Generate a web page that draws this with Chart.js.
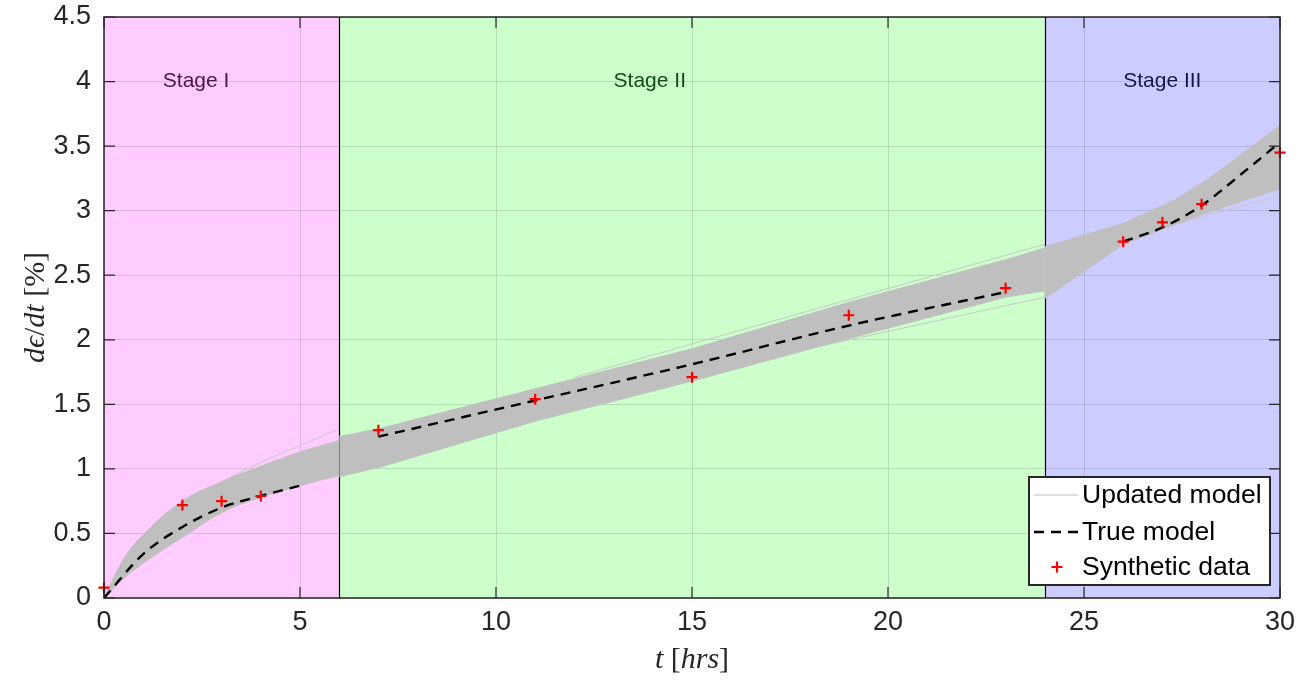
<!DOCTYPE html>
<html>
<head>
<meta charset="utf-8">
<script src="https://cdn.jsdelivr.net/npm/chart.js@4.4.0/dist/chart.umd.min.js"></script>
<style>
  html, body { margin: 0; padding: 0; background: #fff; }
  #wrap { width: 1309px; height: 684px; position: relative; }
</style>
</head>
<body>
<div id="wrap"><canvas id="creepChart"></canvas></div>
<script>
// --- values ---
const stageNames = ['Stage I', 'Stage II', 'Stage III'];
const stageBounds = [0, 6, 24, 30];
const stageLabelX = [1.5, 13, 26];
const stageLabelY = 4.0;

const xTicks = [0, 5, 10, 15, 20, 25, 30];
const xTickLabels = ['0', '5', '10', '15', '20', '25', '30'];
const yTicks = [0, 0.5, 1, 1.5, 2, 2.5, 3, 3.5, 4, 4.5];
const yTickLabels = ['0', '0.5', '1', '1.5', '2', '2.5', '3', '3.5', '4', '4.5'];

// envelope of the updated model runs, one piece per stage
const bandT1 = [0, 0.5, 1, 2, 3, 4, 5, 6];
const bandHi1 = [0, 0.30, 0.49, 0.75, 0.90, 1.02, 1.13, 1.22];
const bandLo1 = [0, 0.15, 0.27, 0.47, 0.66, 0.78, 0.87, 0.95];
const bandT2 = [6, 7, 11, 15, 19, 23, 24];
const bandHi2 = [1.25, 1.31, 1.62, 1.93, 2.29, 2.62, 2.71];
const bandLo2 = [0.94, 1.01, 1.37, 1.68, 2.01, 2.33, 2.38];
const bandT3 = [24, 26, 27.3, 28.1, 30];
const bandHi3 = [2.72, 2.90, 3.08, 3.23, 3.66];
const bandLo3 = [2.32, 2.74, 2.89, 2.98, 3.17];

// a few stray runs just outside the envelope
const strayT = [[3, 4, 5, 6], [12, 24], [17.5, 24], [27.4, 30]];
const strayV = [[0.90, 1.05, 1.18, 1.31], [1.71, 2.74], [1.90, 2.33], [2.90, 3.12]];

// true model (gaps between stages)
const trueT = [0, 1, 2, 3, 4, 5, 6, 7, 11, 15, 19, 23, 25, 26, 27, 28, 29, 30];
const trueV = [0, 0.34, 0.55, 0.70, 0.79, 0.87, null, 1.25, 1.53, 1.81, 2.11, 2.37, null, 2.76, 2.87, 3.04, 3.28, 3.53];

// synthetic measurements
const dataT = [0, 2, 3, 4, 7, 11, 15, 19, 23, 26, 27, 28, 30];
const dataV = [0.08, 0.72, 0.75, 0.79, 1.30, 1.54, 1.71, 2.19, 2.40, 2.76, 2.91, 3.05, 3.45];

// --- styling ---
const stageFill = ['#ffccff', '#ccffcc', '#ccccff'];
const stageText = ['#4a154a', '#154a15', '#15154a'];
const axisColor = '#262626';
const bandColor = '#bfbfbf';
const strayColor = '#c8c8c8';
const sansFont = 'Helvetica, Arial, "Liberation Sans", sans-serif';
const serifFont = '"Liberation Serif", "DejaVu Serif", serif';

const pts = (xs, ys) => xs.map((x, i) => ({ x: x, y: ys[i] }));

const datasets = [];
datasets.push({
    label: 'Synthetic data', data: pts(dataT, dataV), order: 0, clip: false,
    showLine: false, pointStyle: 'cross', pointRadius: 5.5, pointBorderWidth: 2.2,
    pointBorderColor: '#ff0000', borderColor: '#ff0000'
});
datasets.push({
    label: 'True model', data: pts(trueT, trueV), order: 1,
    borderColor: '#000', borderWidth: 2.4, borderDash: [10, 7], pointRadius: 0,
    spanGaps: false, cubicInterpolationMode: 'monotone', fill: false
});
[[bandT1, bandHi1, bandLo1, 0.4], [bandT2, bandHi2, bandLo2, 0], [bandT3, bandHi3, bandLo3, 0]]
    .forEach(([t, hi, lo, tens]) => {
        datasets.push({ label: 'Updated model', data: pts(t, hi), order: 2, borderColor: bandColor,
            borderWidth: 1, pointRadius: 0, fill: false, tension: tens });
        datasets.push({ label: 'Updated model', data: pts(t, lo), order: 2, borderColor: bandColor,
            borderWidth: 1, pointRadius: 0, fill: '-1', backgroundColor: bandColor, tension: tens });
    });
strayT.forEach((t, i) => {
    datasets.push({ label: 'Updated model', data: pts(t, strayV[i]), order: 3, borderColor: strayColor,
        borderWidth: 1, pointRadius: 0, fill: false, tension: 0.3 });
});

function drawMath(ctx, pieces, cx, cy, size) {
    const fonts = pieces.map(p => (p[1] ? 'italic ' : '') + size + 'px ' + serifFont);
    let total = 0;
    const widths = pieces.map((p, i) => { ctx.font = fonts[i]; const w = ctx.measureText(p[0]).width; total += w; return w; });
    let x = cx - total / 2;
    ctx.textAlign = 'left';
    ctx.textBaseline = 'middle';
    pieces.forEach((p, i) => { ctx.font = fonts[i]; ctx.fillText(p[0], x, cy); x += widths[i]; });
}

const stagePlugin = {
    id: 'stages',
    beforeDraw(chart) {
        const { ctx, chartArea: a, scales: { x } } = chart;
        ctx.save();
        for (let i = 0; i < stageNames.length; i++) {
            const l = x.getPixelForValue(stageBounds[i]);
            const r = x.getPixelForValue(stageBounds[i + 1]);
            ctx.fillStyle = stageFill[i];
            ctx.fillRect(l, a.top, r - l, a.bottom - a.top);
        }
        ctx.restore();
    },
    beforeDatasetsDraw(chart) {
        const { ctx, chartArea: a, scales: { x } } = chart;
        ctx.save();
        ctx.strokeStyle = '#000';
        ctx.lineWidth = 1.2;
        for (let i = 1; i < stageBounds.length - 1; i++) {
            const px = Math.round(x.getPixelForValue(stageBounds[i])) + 0.5;
            ctx.beginPath();
            ctx.moveTo(px, a.top);
            ctx.lineTo(px, a.bottom);
            ctx.stroke();
        }
        ctx.restore();
    },
    afterDraw(chart) {
        const { ctx, chartArea: a, scales: { x, y } } = chart;
        ctx.save();

        // stage captions
        ctx.font = '21px ' + sansFont;
        ctx.textAlign = 'left';
        ctx.textBaseline = 'middle';
        stageNames.forEach((name, i) => {
            ctx.fillStyle = stageText[i];
            ctx.fillText(name, x.getPixelForValue(stageLabelX[i]), y.getPixelForValue(stageLabelY));
        });

        // box and inward ticks
        ctx.strokeStyle = axisColor;
        ctx.lineWidth = 1.5;
        ctx.strokeRect(a.left, a.top, a.right - a.left, a.bottom - a.top);
        const tl = 11;
        ctx.lineWidth = 1.2;
        ctx.beginPath();
        xTicks.forEach(v => {
            const px = x.getPixelForValue(v);
            ctx.moveTo(px, a.bottom); ctx.lineTo(px, a.bottom - tl);
            ctx.moveTo(px, a.top); ctx.lineTo(px, a.top + tl);
        });
        yTicks.forEach(v => {
            const py = y.getPixelForValue(v);
            ctx.moveTo(a.left, py); ctx.lineTo(a.left + tl, py);
            ctx.moveTo(a.right, py); ctx.lineTo(a.right - tl, py);
        });
        ctx.stroke();

        // axis titles
        ctx.fillStyle = axisColor;
        drawMath(ctx, [['t', 1], [' [', 0], ['hrs', 1], [']', 0]], (a.left + a.right) / 2, 660, 30);
        ctx.save();
        ctx.translate(36, (a.top + a.bottom) / 2);
        ctx.rotate(-Math.PI / 2);
        drawMath(ctx, [['d\u03f5', 1], ['/', 0], ['dt', 1], [' [%]', 0]], 0, 0, 30);
        ctx.restore();

        // legend box
        const lx = 1029, ly = 477, lw = 241, lh = 108;
        ctx.fillStyle = '#fff';
        ctx.fillRect(lx, ly, lw, lh);
        ctx.strokeStyle = axisColor;
        ctx.lineWidth = 2;
        ctx.strokeRect(lx, ly, lw, lh);
        const seen = [];
        chart.data.datasets.forEach(ds => { if (!seen.find(d => d.label === ds.label)) seen.push(ds); });
        const legendOrder = ['Updated model', 'True model', 'Synthetic data'];
        const rowY = [495, 532, 567];
        legendOrder.forEach((name, i) => {
            const ds = seen.find(d => d.label === name);
            const ry = rowY[i];
            if (ds.showLine === false) {
                const cx = 1057, r = 5.5;
                ctx.strokeStyle = ds.pointBorderColor;
                ctx.lineWidth = ds.pointBorderWidth;
                ctx.setLineDash([]);
                ctx.beginPath();
                ctx.moveTo(cx - r, ry); ctx.lineTo(cx + r, ry);
                ctx.moveTo(cx, ry - r); ctx.lineTo(cx, ry + r);
                ctx.stroke();
            } else {
                ctx.strokeStyle = ds.borderColor;
                ctx.lineWidth = ds.borderWidth;
                ctx.setLineDash(ds.borderDash || []);
                ctx.beginPath();
                ctx.moveTo(1034, ry); ctx.lineTo(1078, ry);
                ctx.stroke();
                ctx.setLineDash([]);
            }
            ctx.fillStyle = '#000';
            ctx.font = '26.5px ' + sansFont;
            ctx.textAlign = 'left';
            ctx.textBaseline = 'middle';
            ctx.fillText(name, 1082, ry + 1);
        });
        ctx.restore();
    }
};

new Chart(document.getElementById('creepChart'), {
    type: 'line',
    data: { datasets: datasets },
    plugins: [stagePlugin],
    options: {
        responsive: true,
        maintainAspectRatio: false,
        animation: false,
        devicePixelRatio: 1,
        layout: { padding: { left: 0, right: 29, top: 17, bottom: 0 } },
        plugins: { legend: { display: false }, tooltip: { enabled: false } },
        scales: {
            x: {
                type: 'linear', min: 0, max: 30,
                afterFit: s => { s.height = 86; s.paddingLeft = 0; s.paddingRight = 0; },
                afterBuildTicks: s => { s.ticks = xTicks.map(v => ({ value: v })); },
                grid: { color: 'rgba(38,38,38,0.15)', drawTicks: false },
                border: { display: false },
                ticks: {
                    color: axisColor, padding: 8, maxRotation: 0,
                    font: { size: 27, family: sansFont },
                    callback: v => xTickLabels[xTicks.indexOf(v)]
                }
            },
            y: {
                type: 'linear', min: 0, max: 4.5,
                afterFit: s => { s.width = 104; s.paddingTop = 0; s.paddingBottom = 0; },
                afterBuildTicks: s => { s.ticks = yTicks.map(v => ({ value: v })); },
                grid: { color: 'rgba(38,38,38,0.15)', drawTicks: false },
                border: { display: false },
                ticks: {
                    color: axisColor, padding: 13,
                    font: { size: 27, family: sansFont },
                    callback: v => yTickLabels[yTicks.indexOf(v)]
                }
            }
        }
    }
});
</script>
</body>
</html>
